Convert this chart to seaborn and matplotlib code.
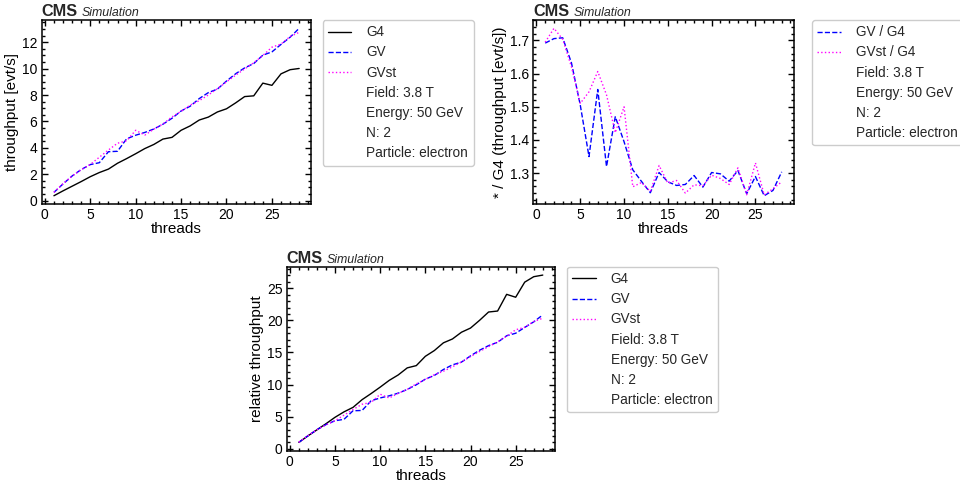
import matplotlib
matplotlib.use("Agg")
import matplotlib.pyplot as plt
from matplotlib.lines import Line2D
from matplotlib.ticker import AutoMinorLocator, MultipleLocator
import seaborn as sns
import pandas as pd

# throughput per thread count [evt/s]
threads = list(range(1, 29))
g4 = [0.370, 0.740, 1.092, 1.443, 1.813, 2.128, 2.387, 2.831, 3.182, 3.552,
      3.941, 4.255, 4.662, 4.792, 5.328, 5.661, 6.105, 6.327, 6.716, 6.956,
      7.400, 7.881, 7.937, 8.899, 8.732, 9.602, 9.916, 10.009]
gv = [0.626, 1.262, 1.865, 2.355, 2.730, 2.873, 3.705, 3.737, 4.678, 4.955,
      5.163, 5.425, 5.786, 6.239, 6.788, 7.150, 7.729, 8.181, 8.449, 9.057,
      9.605, 10.056, 10.382, 11.017, 11.264, 11.830, 12.375, 13.052]
gvst = [0.627, 1.285, 1.860, 2.338, 2.738, 3.288, 3.834, 4.348, 4.525, 5.328,
        4.962, 5.412, 5.804, 6.340, 6.767, 7.235, 7.570, 8.004, 8.476, 9.001,
        9.502, 9.977, 10.445, 10.990, 11.622, 11.858, 12.425, 12.751]

info = ["Field: 3.8 T", "Energy: 50 GeV", "N: 2", "Particle: electron"]

sns.set_theme(style="ticks")
plt.rcParams["font.family"] = ["Liberation Sans", "DejaVu Sans"]
plt.rcParams.update({
    "axes.linewidth": 1.1,
    "axes.edgecolor": "black",
    "xtick.labelsize": 10,
    "ytick.labelsize": 10,
    "axes.labelsize": 11,
    "xtick.color": "black",
    "ytick.color": "black",
    "axes.labelcolor": "black",
})

df = pd.DataFrame({"threads": threads, "G4": g4, "GV": gv, "GVst": gvst})
df["GV / G4"] = df["GV"] / df["G4"]
df["GVst / G4"] = df["GVst"] / df["G4"]
rel = df[["G4", "GV", "GVst"]] / df[["G4", "GV", "GVst"]].iloc[0]
rel["threads"] = df["threads"]

styles = {
    "G4": dict(color="black", linestyle="-"),
    "GV": dict(color="#0000ff", linestyle="--"),
    "GVst": dict(color="#ff00ff", linestyle=":"),
    "GV / G4": dict(color="#0000ff", linestyle="--"),
    "GVst / G4": dict(color="#ff00ff", linestyle=":"),
}


def cms_label(ax):
    ax.annotate("CMS", xy=(0, 1), xycoords="axes fraction", xytext=(0, 2.5),
                textcoords="offset points", fontsize=11.7, fontweight="bold",
                ha="left", va="baseline")
    ax.annotate("Simulation", xy=(0, 1), xycoords="axes fraction",
                xytext=(28.8, 2.5), textcoords="offset points", fontsize=8.9,
                fontstyle="italic", ha="left", va="baseline")


def style_axes(ax, ystep):
    ax.xaxis.set_major_locator(MultipleLocator(5))
    ax.yaxis.set_major_locator(MultipleLocator(ystep))
    ax.xaxis.set_minor_locator(AutoMinorLocator())
    ax.yaxis.set_minor_locator(AutoMinorLocator())
    ax.tick_params(which="both", direction="in", top=True, right=True,
                   width=1.0, color="black")
    ax.tick_params(which="major", length=4.5, pad=3)
    ax.tick_params(which="minor", length=2.5)


def draw(ax, data, cols, ylabel, anchor_x, ystep):
    for c in cols:
        sns.lineplot(data=data, x="threads", y=c, ax=ax, label=c,
                     linewidth=1.0, **styles[c])
    handles, labels = ax.get_legend_handles_labels()
    for t in info:
        handles.append(Line2D([], [], linestyle="none"))
        labels.append(t)
    ax.legend(handles, labels, loc="upper left", bbox_to_anchor=(anchor_x, 1.0),
              borderaxespad=0, fontsize=9.8, labelspacing=0.45,
              handlelength=1.7, handletextpad=1.1, borderpad=0.4,
              frameon=True, fancybox=True, edgecolor="#cccccc", framealpha=1)
    ax.set_xlabel("threads", labelpad=0)
    ax.set_ylabel(ylabel, labelpad=2)
    style_axes(ax, ystep)
    cms_label(ax)


fig = plt.figure(figsize=(9.6, 4.86), dpi=100)
ax1 = fig.add_axes([0.0434, 0.580, 0.281, 0.379])
ax2 = fig.add_axes([0.5556, 0.580, 0.271, 0.379])
ax3 = fig.add_axes([0.2986, 0.0726, 0.2795, 0.3786])

draw(ax1, df, ["G4", "GV", "GVst"], "throughput [evt/s]", 1.042, 2)
draw(ax2, df, ["GV / G4", "GVst / G4"], "* / G4 (throughput [evt/s])", 1.071, 0.1)
draw(ax3, rel, ["G4", "GV", "GVst"], "relative throughput", 1.045, 5)

fig.savefig("out.png", dpi=100)
